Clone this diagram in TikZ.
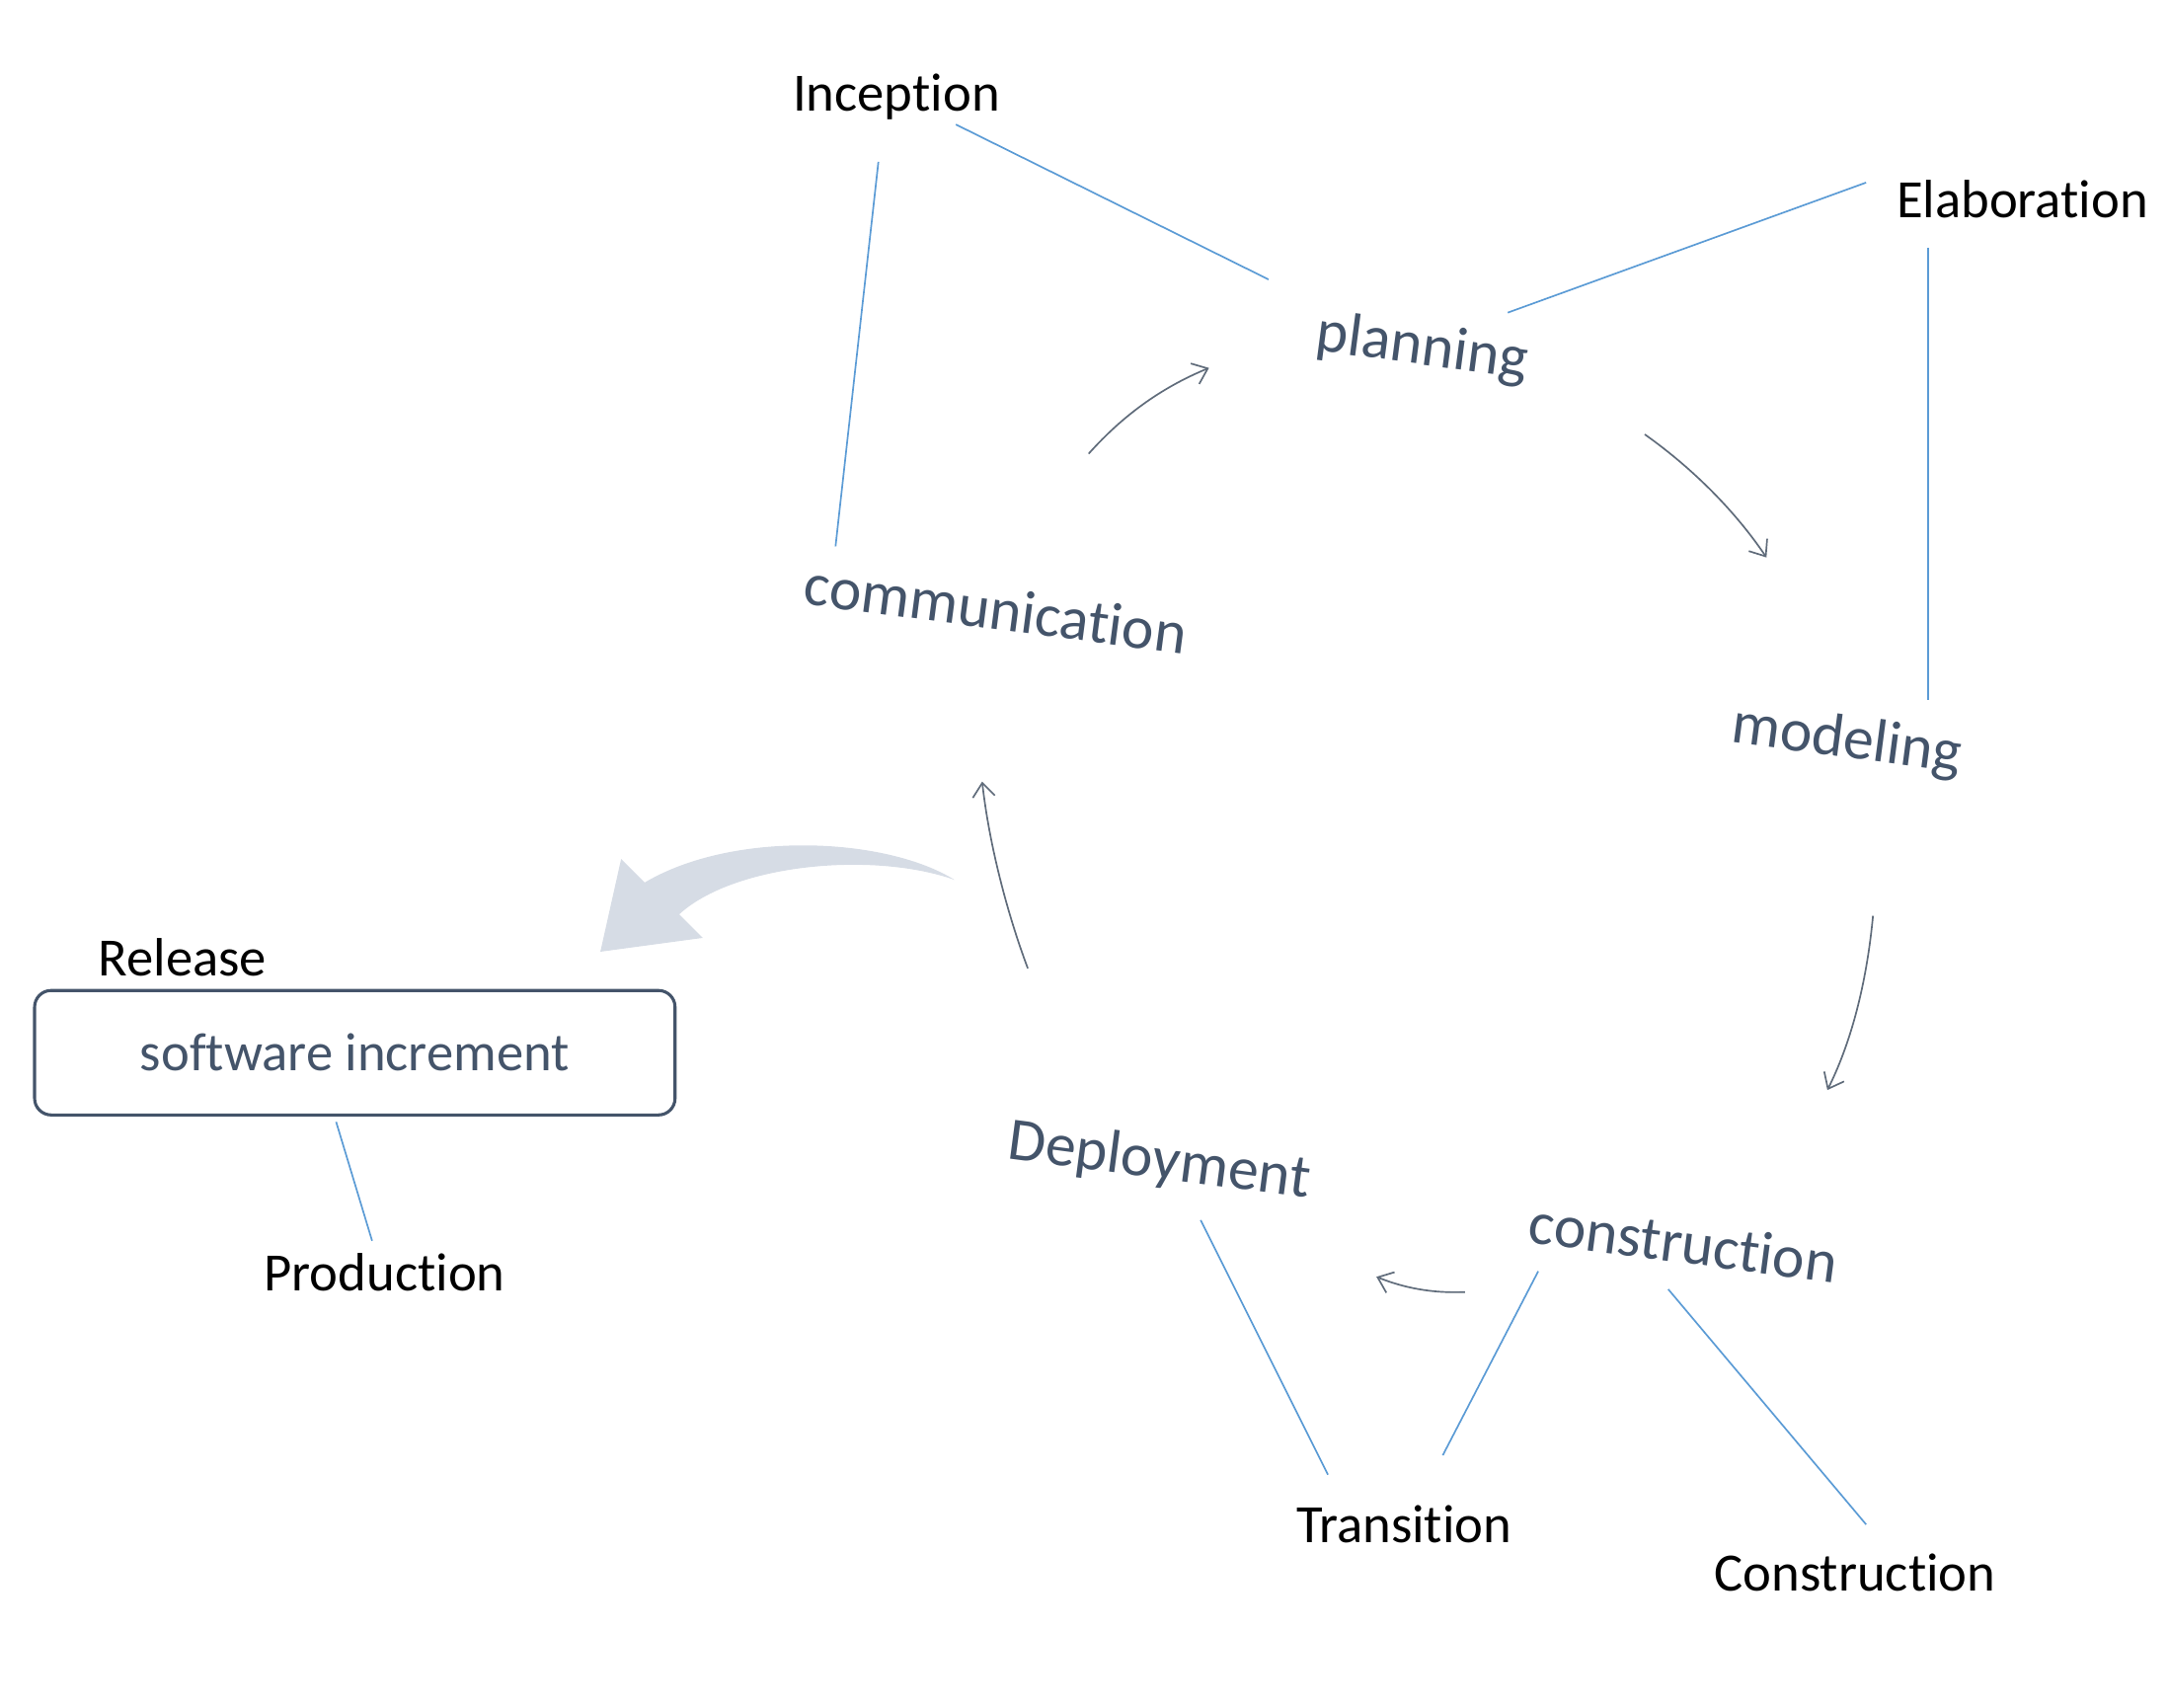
\documentclass[tikz,border=0pt]{standalone}
\usepackage{fontspec}
\setmainfont{Carlito}[Ligatures={NoCommon,NoRare,NoContextual}]
\usetikzlibrary{arrows.meta}
\definecolor{txtgray}{HTML}{44546A}
\definecolor{lineblue}{HTML}{5B9BD5}
\definecolor{arrgray}{HTML}{5F6B7A}
\definecolor{bigarr}{HTML}{D6DCE5}
\tikzset{
  phase/.style={font=\fontsize{19.5}{23}\selectfont, text=black, inner sep=0pt},
  activity/.style={font=\fontsize{22}{26}\selectfont, text=txtgray, inner sep=0pt, rotate=-7.5},
  link/.style={draw=lineblue, line width=0.6pt},
  flow/.style={draw=arrgray, line width=0.6pt, -{Straight Barb[length=5pt,width=8pt]}},
  incbox/.style={draw=txtgray, line width=1.1pt, rounded corners=6pt, minimum width=231.5pt, minimum height=45pt, font=\fontsize{19.5}{23}\selectfont, text=txtgray}
}
\begin{document}
\begin{tikzpicture}[x=0.5pt,y=-0.5pt]
\useasboundingbox (0,0) rectangle (1568,1234);
% phase labels
\node[phase] (inc) at (648,70) {Inception};
\node[phase] (ela) at (1462,144) {Elaboration};
\node[phase] (rel) at (132,692) {Release};
\node[phase] (pro) at (278,920) {Production};
\node[phase] (tra) at (1015,1102) {Transition};
\node[phase] (con) at (1341,1137) {Construction};
% activities
\node[activity] (plan) at (1028,252) {planning};
\node[activity] (comm) at (720,440) {communication};
\node[activity] (mod) at (1335,536) {modeling};
\node[activity] (cons) at (1217,898) {construction};
\node[activity] (dep) at (838,840) {Deployment};
% increment box
\node[incbox] (box) at (256.5,761) {software increment};
% connector end points
\coordinate (incP) at (691,90);   \coordinate (planI) at (917,202);
\coordinate (incC) at (635,117);  \coordinate (commI) at (604,395);
\coordinate (elaP) at (1349,132); \coordinate (planE) at (1090,226);
\coordinate (elaM) at (1394,179); \coordinate (modE) at (1394,506);
\coordinate (boxP) at (243,811);  \coordinate (proB) at (269,897);
\coordinate (depT) at (868,882);  \coordinate (traD) at (960,1066);
\coordinate (consT) at (1112,919);\coordinate (traC) at (1043,1052);
\coordinate (consC) at (1206,932);\coordinate (conC) at (1349,1102);
% blue links
\draw[link] (incP) -- (planI);
\draw[link] (incC) -- (commI);
\draw[link] (elaP) -- (planE);
\draw[link] (elaM) -- (modE);
\draw[link] (boxP) -- (proB);
\draw[link] (depT) -- (traD);
\draw[link] (consT) -- (traC);
\draw[link] (consC) -- (conC);
% flow arrows
\coordinate (f1a) at (787,328);  \coordinate (f1b) at (874,266);
\coordinate (f2a) at (1189,314); \coordinate (f2b) at (1277,403);
\coordinate (f3a) at (1354,662); \coordinate (f3b) at (1321,788);
\coordinate (f4a) at (1059,934); \coordinate (f4b) at (995,923);
\coordinate (f5a) at (743,700);  \coordinate (f5b) at (710,565);
\draw[flow] (f1a) .. controls (812,300) and (840,280) .. (f1b);
\draw[flow] (f2a) .. controls (1220,336) and (1252,366) .. (f2b);
\draw[flow] (f3a) .. controls (1350,705) and (1340,750) .. (f3b);
\draw[flow] (f4a) .. controls (1035,935) and (1015,931) .. (f4b);
\draw[flow] (f5a) .. controls (728,660) and (715,610) .. (f5b);
% big release arrow
\fill[bigarr] (690,636) .. controls (640,605) and (530,600) .. (466,638)
  -- (449,621) -- (434,688) -- (508,678) -- (491,661)
  .. controls (530,625) and (630,615) .. (690,636) -- cycle;
\end{tikzpicture}
\end{document}
